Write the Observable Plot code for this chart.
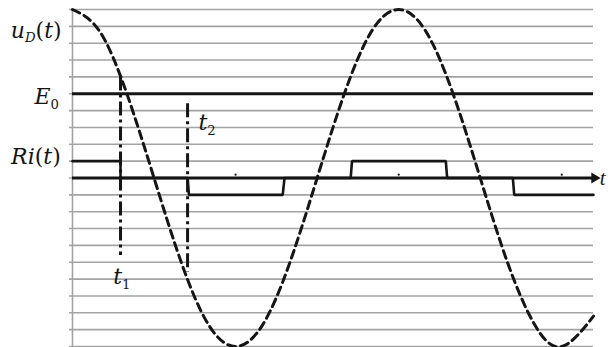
<!DOCTYPE html>
<html>
<head>
<meta charset="utf-8">
<script src="https://cdn.jsdelivr.net/npm/d3@7"></script>
<script src="https://cdn.jsdelivr.net/npm/@observablehq/plot@0.6"></script>
<style>
  html, body { margin: 0; padding: 0; background: #fff; }
  #chart svg { display: block; }
  #chart svg text { font-family: "DejaVu Serif", "Liberation Serif", serif; }
</style>
</head>
<body>
<div id="chart"></div>
<script>
// ---- data (x in phase degrees of the voltage, y in grid units) ----
const gridLevels = [-10,-9,-8,-7,-6,-5,-4,-3,-2,-1,0,1,2,3,4,5,6,7,8,9,10];
const e0Level = 5;

// dashed u_D(t) curve
const uX = [0,30,60,90,120,150,180,210,240,270,300,330,360,390,420,450,480,510,540,575];
const uY = [10,8.7,5,0,-5,-8.7,-10,-8.7,-5,0,5,8.7,10,8.7,5,0,-5,-8.7,-10,-8.2];

// Ri(t) step signal
const riX = [0,53,53,127,128.5,232,234,307,308.5,412,413.5,486,487.5,575];
const riY = [1,1,0,0,-1,-1,0,0,1,1,0,0,-1,-1];

// dash-dot markers t1, t2
const markX  = [53, 127];
const markY1 = [6, 4.4];
const markY2 = [-4.6, -5.6];

// small dots on the time axis
const axisDotX = [180, 360, 540];

// labels
const labelText = ["uD(t)", "E0", "Ri(t)", "t2", "t1", "t"];
const labelX    = [-12, -15, -13, 139, 45, 582];
const labelY    = [8.75, 4.8, 1.25, 3.25, -5.9, 0];
const labelAnchor = ["end", "end", "end", "start", "start", "start"];

const parts = {
  "uD(t)": [["u","i"],["D","s"],["(","n"],["t","i"],[")","n"]],
  "E0":    [["E","i"],["0","sn"]],
  "Ri(t)": [["Ri","i"],["(","n"],["t","i"],[")","n"]],
  "t2":    [["t","i"],["2","sn"]],
  "t1":    [["t","i"],["1","sn"]],
  "t":     [["t","it"]]
};

const labels = labelText.map((t, i) => ({t, x: labelX[i], y: labelY[i], a: labelAnchor[i]}));
const ink = "#151515";
const gray = "#a3a3a3";

const chart = Plot.plot({
  width: 608,
  height: 347,
  marginLeft: 72,
  marginRight: 15,
  marginTop: 9,
  marginBottom: 1,
  x: {domain: [0, 575], axis: null},
  y: {domain: [-10, 10], axis: null},
  style: {background: "#fff", overflow: "visible"},
  marks: [
    Plot.ruleY(gridLevels, {x1: -3.3, x2: 575, stroke: gray, strokeWidth: 1.6}),
    Plot.ruleX([0], {y1: -10, y2: 10, stroke: gray, strokeWidth: 1.6}),
    Plot.ruleY([e0Level], {x1: 0, x2: 575, stroke: ink, strokeWidth: 3}),
    Plot.ruleY([0], {x1: 0, x2: 574, stroke: ink, strokeWidth: 3}),
    Plot.dot([576], {x: d => d, y: 0, symbol: "triangle", r: 4, rotate: 90, fill: ink, stroke: "none"}),
    Plot.dot(axisDotX, {x: d => d, y: 0.2, r: 1.1, fill: ink, stroke: "none"}),
    Plot.line(riX.map((x, i) => [x, riY[i]]), {x: d => d[0], y: d => d[1], stroke: ink, strokeWidth: 2.6, strokeLinejoin: "miter"}),
    Plot.ruleX(markX.map((x, i) => ({x, y1: markY1[i], y2: markY2[i]})), {x: "x", y1: "y1", y2: "y2", stroke: ink, strokeWidth: 3, strokeDasharray: "14,4,3,4"}),
    Plot.line(uX.map((x, i) => [x, uY[i]]), {x: d => d[0], y: d => d[1], curve: "natural", stroke: ink, strokeWidth: 3, strokeDasharray: "8,5"}),
    Plot.text(labels.filter(d => d.a === "end"), {x: "x", y: "y", text: "t", textAnchor: "end", fontSize: 22, fill: ink}),
    Plot.text(labels.filter(d => d.a === "start"), {x: "x", y: "y", text: "t", textAnchor: "start", fontSize: 22, fill: ink})
  ]
});

// rich text: italics and subscripts
d3.select(chart).selectAll("text").each(function() {
  const el = d3.select(this);
  const s = el.text();
  const p = parts[s];
  if (!p) return;
  el.text(null);
  let lowered = false;
  p.forEach(([str, kind]) => {
    const ts = el.append("tspan").text(str);
    if (kind === "i") ts.attr("font-style", "italic");
    if (kind === "it") ts.attr("font-style", "italic").attr("font-family", "Liberation Serif").attr("font-size", "0.95em");
    if (kind === "s" || kind === "sn") {
      ts.attr("font-size", "0.6em").attr("dy", "0.35em");
      if (kind === "s") ts.attr("font-style", "italic");
      lowered = true;
    } else if (lowered) {
      ts.attr("dy", "-0.21em");
      lowered = false;
    }
  });
});

document.getElementById("chart").appendChild(chart);
</script>
</body>
</html>
